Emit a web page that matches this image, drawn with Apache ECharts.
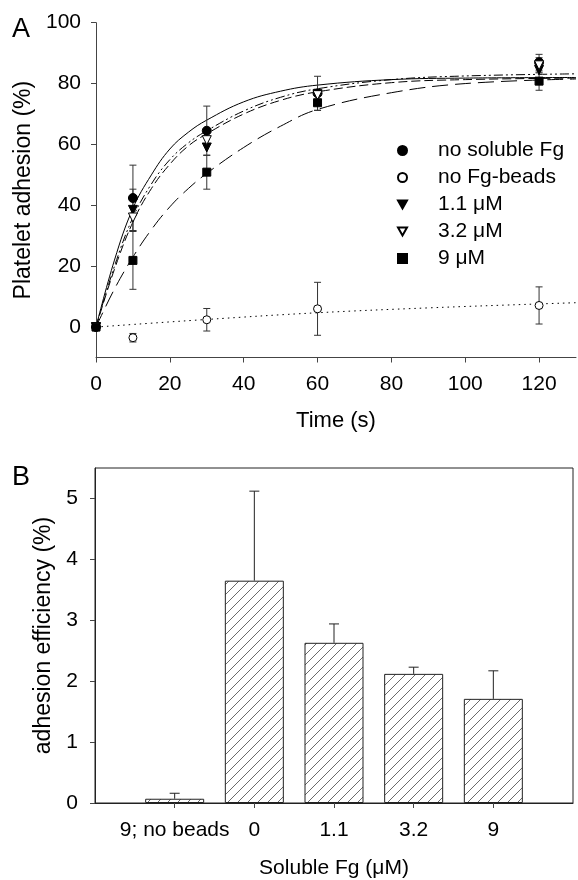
<!DOCTYPE html>
<html>
<head>
<meta charset="utf-8">
<script src="https://cdn.jsdelivr.net/npm/echarts@6/dist/echarts.min.js"></script>
<style>html,body{margin:0;padding:0;background:#fff}#c{width:578px;height:880px}</style>
</head>
<body>
<div id="c"></div>
<script>
// ---------- Panel A data ----------
const timeA = [0, 10, 30, 60, 120];
const noSolubleFg = [0, 42.4, 64.5, 76.8, 87.0];
const noSolubleFgErr = [0, 10.8, 8.1, 5.6, 2.6];
const noFgBeads = [0, -3.5, 2.4, 6.0, 7.1];
const noFgBeadsErr = [0, 1.4, 3.7, 8.7, 6.1];
const fg11 = [0, 38.5, 59.0, 76.5, 84.5];
const fg11Err = [0, 6.8, 0, 0, 0];
const fg32 = [0, 36.0, 61.4, 76.2, 86.0];
const fg32Err = [0, 0, 0, 0, 2.5];
const fg9 = [0, 21.9, 50.9, 73.7, 80.8];
const fg9Err = [0, 9.5, 5.6, 2.5, 3.0];

// fitted curves
const fitTime = [0, 5, 10, 15, 20, 25, 30, 40, 50, 60, 80, 100, 130];
const fitNoSolubleFg = [0, 22, 39, 50, 58.5, 64, 68, 74, 77.5, 79.5, 81.3, 81.8, 82];
const fitFg11 = [0, 20, 36, 47, 55, 60.5, 64.5, 71, 75.5, 78.3, 81.3, 82.5, 83.2];
const fitFg32 = [0, 19, 34.5, 45.5, 53.5, 59.5, 63.5, 70, 74.5, 77.3, 80.3, 81.3, 81.8];
const fitFg9 = [0, 12.5, 23, 32, 39.5, 45.5, 50.5, 59, 66, 71.5, 77, 80, 81.5];
const fitBeadsTime = [0, 30, 60, 90, 120, 130];
const fitNoFgBeads = [0, 2.5, 4.7, 6.3, 7.6, 8.0];

const yTicksA = [0, 20, 40, 60, 80, 100];
const xTicksA = [0, 20, 40, 60, 80, 100, 120];

// ---------- Panel B data ----------
const catsB = ['9; no beads', '0', '1.1', '3.2', '9'];
const effB = [0.07, 3.65, 2.63, 2.12, 1.71];
const effErrB = [0.09, 1.47, 0.31, 0.11, 0.46];
const yTicksB = [0, 1, 2, 3, 4, 5];

const FONT = 'Liberation Sans, Arial, sans-serif';
const zip = (xs, ys) => xs.map((x, i) => [x, ys[i]]);
const zipErr = (xs, ys, es) => xs.map((x, i) => [x, ys[i], es[i]]).filter(d => d[2] > 0);

const triDown = 'path://M0,0L10,0L5,9Z';

// hatch pattern
const pat = document.createElement('canvas');
pat.width = 10; pat.height = 10;
const pc = pat.getContext('2d');
pc.fillStyle = '#fff'; pc.fillRect(0, 0, 10, 10);
pc.strokeStyle = '#6a6a6a'; pc.lineWidth = 1;
pc.beginPath();
pc.moveTo(0, 10); pc.lineTo(10, 0);
pc.moveTo(-5, 5); pc.lineTo(5, -5);
pc.moveTo(5, 15); pc.lineTo(15, 5);
pc.stroke();

function errBoth(params, api) {
  const x = api.value(0), y = api.value(1), e = api.value(2);
  const hi = api.coord([x, y + e]), lo = api.coord([x, y - e]);
  const w = 3.5;
  const st = { stroke: '#333', lineWidth: 1 };
  return { type: 'group', children: [
    { type: 'line', shape: { x1: hi[0], y1: hi[1], x2: lo[0], y2: lo[1] }, style: st },
    { type: 'line', shape: { x1: hi[0] - w, y1: hi[1], x2: hi[0] + w, y2: hi[1] }, style: st },
    { type: 'line', shape: { x1: lo[0] - w, y1: lo[1], x2: lo[0] + w, y2: lo[1] }, style: st }
  ]};
}
function errUp(params, api) {
  const x = api.value(0), y = api.value(1), e = api.value(2);
  const hi = api.coord([x, y + e]), lo = api.coord([x, y]);
  const w = 5;
  const st = { stroke: '#222', lineWidth: 1 };
  return { type: 'group', children: [
    { type: 'line', shape: { x1: hi[0], y1: hi[1], x2: lo[0], y2: lo[1] }, style: st },
    { type: 'line', shape: { x1: hi[0] - w, y1: hi[1], x2: hi[0] + w, y2: hi[1] }, style: st }
  ]};
}

const axisCol = '#444';
const fitLine = (data, type) => ({
  type: 'line', xAxisIndex: 0, yAxisIndex: 0, data, smooth: 0.4, showSymbol: false, symbol: 'none',
  lineStyle: { color: '#000', width: 1, type }, silent: true, z: 2
});
const marker = (name, data, symbol, size, filled) => ({
  type: 'scatter', name, xAxisIndex: 0, yAxisIndex: 0, data, symbol, symbolSize: size,
  itemStyle: { color: filled ? '#000' : '#fff', borderColor: '#000', borderWidth: 1, opacity: 1 }, z: 5
});
const errSeries = (data, idx) => ({
  type: 'custom', xAxisIndex: idx, yAxisIndex: idx, data, renderItem: idx === 0 ? errBoth : errUp, z: 4, silent: true
});

const option = {
  animation: false,
  textStyle: { fontFamily: FONT },
  graphic: [
    { type: 'text', left: 12, top: 16, style: { text: 'A', fontSize: 27, fontFamily: FONT, fill: '#000' } },
    { type: 'text', left: 12, top: 464, style: { text: 'B', fontSize: 27, fontFamily: FONT, fill: '#000' } }
  ],
  legend: {
    orient: 'vertical', left: 392, top: 135, itemGap: 6, itemWidth: 9, itemHeight: 9,
    textStyle: { fontSize: 21, fontFamily: FONT, color: '#000', padding: [0, 0, 0, 26], lineHeight: 21 },
    data: ['no soluble Fg', 'no Fg-beads', '1.1 \u03bcM', '3.2 \u03bcM', '9 \u03bcM'],
    selectedMode: false
  },
  grid: [
    { left: 96, top: 22.7, width: 480, height: 334.8 },
    { left: 95, top: 468, width: 478, height: 336, show: true, borderColor: '#222', borderWidth: 1 }
  ],
  xAxis: [
    {
      gridIndex: 0, type: 'value', min: 0, max: 130,
      name: 'Time (s)', nameLocation: 'middle', nameGap: 52,
      nameTextStyle: { fontSize: 22, color: '#000', fontFamily: FONT },
      axisLine: { onZero: false, lineStyle: { color: axisCol, width: 1 } },
      axisTick: { customValues: xTicksA, length: 5, lineStyle: { color: axisCol } },
      axisLabel: { customValues: xTicksA, fontSize: 21, color: '#000', margin: 16, fontFamily: FONT },
      splitLine: { show: false }
    },
    {
      gridIndex: 1, type: 'value', min: 0, max: 6,
      name: 'Soluble Fg (\u03bcM)', nameLocation: 'middle', nameGap: 55,
      nameTextStyle: { fontSize: 21, color: '#000', fontFamily: FONT },
      axisLine: { onZero: false, lineStyle: { color: '#222', width: 1 } },
      axisTick: { customValues: [1, 2, 3, 4, 5], length: 5, lineStyle: { color: axisCol } },
      axisLabel: { customValues: [1, 2, 3, 4, 5], fontSize: 21, color: '#000', margin: 17, fontFamily: FONT,
        formatter: v => catsB[Math.round(v) - 1] },
      splitLine: { show: false }
    }
  ],
  yAxis: [
    {
      gridIndex: 0, type: 'value', min: -10, max: 100,
      name: 'Platelet adhesion (%)', nameLocation: 'middle', nameGap: 61,
      nameTextStyle: { fontSize: 23, color: '#000', fontFamily: FONT },
      axisLine: { show: true, lineStyle: { color: axisCol, width: 1 } },
      axisTick: { show: true, customValues: yTicksA, length: 5, lineStyle: { color: axisCol } },
      axisLabel: { customValues: yTicksA, fontSize: 21, color: '#000', margin: 15, fontFamily: FONT },
      splitLine: { show: false }
    },
    {
      gridIndex: 1, type: 'value', min: 0, max: 5.5,
      name: 'adhesion efficiency (%)', nameLocation: 'middle', nameGap: 40,
      nameTextStyle: { fontSize: 23, color: '#000', fontFamily: FONT },
      axisLine: { show: true, lineStyle: { color: '#222', width: 1 } },
      axisTick: { show: true, customValues: yTicksB, length: 5, lineStyle: { color: axisCol } },
      axisLabel: { customValues: yTicksB, fontSize: 21, color: '#000', margin: 17, fontFamily: FONT },
      splitLine: { show: false }
    }
  ],
  series: [
    fitLine(zip(fitTime, fitNoSolubleFg), 'solid'),
    fitLine(zip(fitTime, fitFg11), [9, 3, 2, 3, 2, 3]),
    fitLine(zip(fitTime, fitFg32), [9, 4]),
    fitLine(zip(fitTime, fitFg9), [16, 7]),
    fitLine(zip(fitBeadsTime, fitNoFgBeads), [1.5, 4]),
    errSeries(zipErr(timeA, noSolubleFg, noSolubleFgErr), 0),
    errSeries(zipErr(timeA, noFgBeads, noFgBeadsErr), 0),
    errSeries(zipErr(timeA, fg11, fg11Err), 0),
    errSeries(zipErr(timeA, fg32, fg32Err), 0),
    errSeries(zipErr(timeA, fg9, fg9Err), 0),
    marker('no soluble Fg', zip(timeA, noSolubleFg), 'circle', 9, true),
    marker('no Fg-beads', zip(timeA, noFgBeads), 'circle', 8, false),
    marker('1.1 \u03bcM', zip(timeA, fg11), triDown, 9, true),
    marker('3.2 \u03bcM', zip(timeA, fg32), triDown, 9, false),
    marker('9 \u03bcM', zip(timeA, fg9), 'rect', 8, true),
    {
      type: 'bar', xAxisIndex: 1, yAxisIndex: 1, barWidth: 59,
      data: effB.map((v, i) => [i + 1, v]),
      itemStyle: { color: { image: pat, repeat: 'repeat' }, borderColor: '#222', borderWidth: 1 },
      silent: true, z: 2
    },
    errSeries(effB.map((v, i) => [i + 1, v, effErrB[i]]), 1)
  ]
};

const chart = echarts.init(document.getElementById('c'), null, { renderer: 'canvas' });
chart.setOption(option);
</script>
</body>
</html>
